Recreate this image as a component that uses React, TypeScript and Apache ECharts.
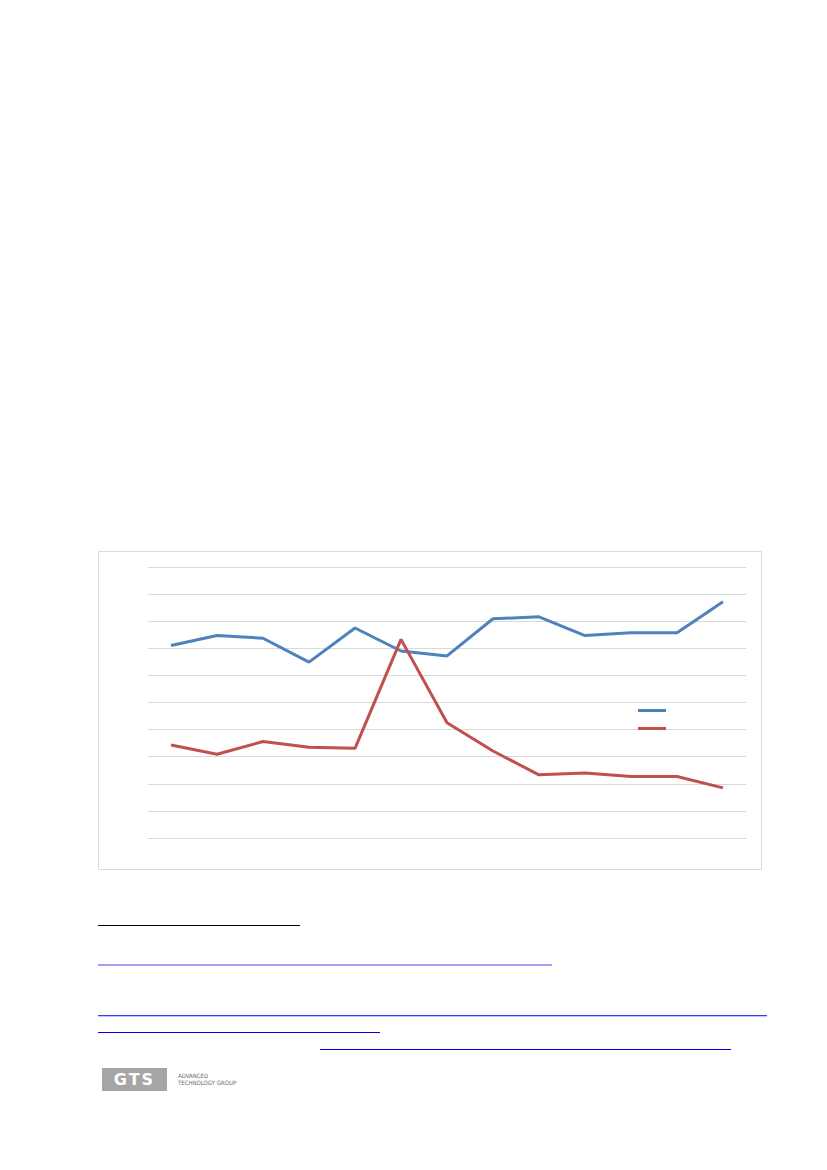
import React, { useEffect, useRef } from 'react';
import * as echarts from 'echarts';

type EChartsOption = echarts.EChartsOption;

// values (axis 0..10, labels are not shown in the reference)
const categories = ['1', '2', '3', '4', '5', '6', '7', '8', '9', '10', '11', '12', '13'];
const seriesNames = ['Series 1', 'Series 2'];
const blueValues = [7.1, 7.47, 7.37, 6.49, 7.75, 6.9, 6.72, 8.09, 8.16, 7.47, 7.57, 7.57, 8.72];
const redValues = [3.43, 3.09, 3.56, 3.35, 3.31, 7.33, 4.25, 3.21, 2.33, 2.4, 2.27, 2.27, 1.85];
const yTicks = [0, 10, 1]; // min, max, interval

const LineChart = () => {
  const chartRef = useRef<HTMLDivElement>(null);

  useEffect(() => {
    if (!chartRef.current) return;
    const myChart = echarts.init(chartRef.current, undefined, { renderer: 'svg' });
    const option: EChartsOption = {
      animation: false,
      graphic: [
        {
          type: 'rect',
          shape: { x: 0.5, y: 0.5, width: 663, height: 318 },
          style: { fill: 'none', stroke: '#d9d9d9', lineWidth: 1 },
          silent: true,
        },
      ],
      grid: { left: 50, right: 16, top: 16, bottom: 32 },
      legend: {
        orient: 'vertical',
        left: 535,
        top: 153,
        icon: 'rect',
        itemWidth: 28,
        itemHeight: 3,
        itemGap: 15,
        formatter: () => '',
        textStyle: { fontSize: 1 },
        data: seriesNames,
      },
      xAxis: {
        type: 'category',
        data: categories,
        boundaryGap: true,
        axisLine: { lineStyle: { color: '#d9d9d9' } },
        axisTick: { show: false },
        axisLabel: { show: false },
      },
      yAxis: {
        type: 'value',
        min: yTicks[0],
        max: yTicks[1],
        interval: yTicks[2],
        axisLine: { show: false },
        axisTick: { show: false },
        axisLabel: { show: false },
        splitLine: { lineStyle: { color: '#d9d9d9', width: 1 } },
      },
      series: [
        {
          name: seriesNames[0],
          type: 'line',
          data: blueValues,
          showSymbol: false,
          color: '#4f81bd',
          lineStyle: { width: 3, color: '#4f81bd' },
        },
        {
          name: seriesNames[1],
          type: 'line',
          data: redValues,
          showSymbol: false,
          color: '#c0504d',
          lineStyle: { width: 3, color: '#c0504d' },
        },
      ],
    };
    myChart.setOption(option);
    return () => {
      myChart.dispose();
    };
  }, []);

  return <div ref={chartRef} style={{ width: '664px', height: '319px' }} />;
};

const rule = (left: number, top: number, width: number, color: string, extra: React.CSSProperties = {}) => (
  <div style={{ position: 'absolute', left, top, width, height: 1, background: color, ...extra }} />
);

const App = () => {
  return (
    <div style={{ position: 'absolute', left: 0, top: 0, width: 827, height: 1170, background: '#fff' }}>
      <div style={{ position: 'absolute', left: 98, top: 551 }}>
        <LineChart />
      </div>
      {rule(98, 925, 202, '#000')}
      {rule(98, 964, 454, '#a0a0f6', { height: 2 })}
      {rule(98, 1015, 669, '#3a3aff', { boxShadow: '0 1px 0 #c4c4ff' })}
      {rule(98, 1032, 282, '#0000e6')}
      {rule(320, 1049, 411, '#0000e6')}
      <div
        style={{
          position: 'absolute',
          left: 102,
          top: 1068,
          width: 65,
          height: 23,
          background: '#a6a6a6',
          color: '#fff',
          fontFamily: 'DejaVu Sans, sans-serif',
          fontWeight: 'bold',
          fontSize: 16,
          lineHeight: '23px',
          textAlign: 'center',
          letterSpacing: 2,
        }}
      >
        GTS
      </div>
      <div
        style={{
          position: 'absolute',
          left: 178,
          top: 1072,
          fontFamily: 'DejaVu Sans Condensed, sans-serif',
          fontSize: 6,
          lineHeight: '7px',
          color: '#666',
        }}
      >
        ADVANCED
        <br />
        TECHNOLOGY GROUP
      </div>
    </div>
  );
};

export default App;
